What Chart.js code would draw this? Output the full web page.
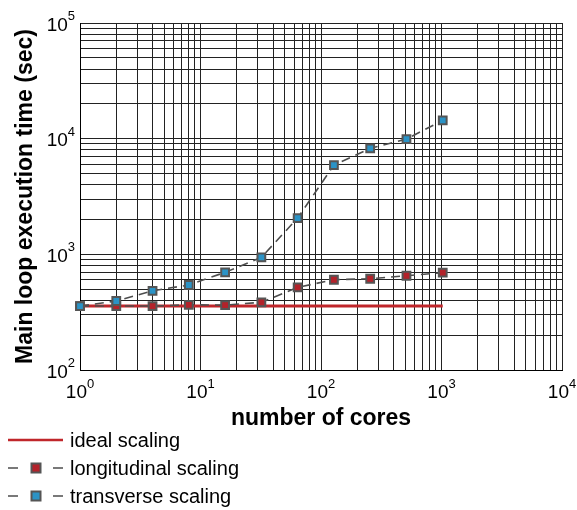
<!DOCTYPE html>
<html>
<head>
<meta charset="utf-8">
<script src="https://cdn.jsdelivr.net/npm/chart.js@4/dist/chart.umd.min.js"></script>
<style>
  html, body { margin: 0; padding: 0; background: #fff; }
  #wrap { width: 577px; height: 510px; }
</style>
</head>
<body>
<div id="wrap"><canvas id="c1"></canvas></div>
<script>
// scaling runs, execution time in seconds
var cores = [1, 2, 4, 8, 16, 32, 64, 128, 256, 512, 1024];
var longitudinal = [357, 357, 357, 366, 364, 385, 518, 603, 615, 653, 694];
var transverse = [357, 395, 484, 543, 699, 942, 2060, 5910, 8250, 9930, 14400];
var idealCores = [1, 1024];
var idealTime = [357, 357];

var FONT = "'Liberation Sans', Arial, Helvetica, sans-serif";

function pairs(xs, ys) {
  return xs.map(function (x, i) { return { x: x, y: ys[i] }; });
}

// 1,2,...,9 per decade so every decade gets its minor grid
function decadeTicks(min, max) {
  var out = [];
  for (var e = Math.log10(min); e < Math.log10(max); e++) {
    for (var m = 1; m < 10; m++) out.push({ value: m * Math.pow(10, e) });
  }
  out.push({ value: max });
  return out;
}

function isPow10(v) {
  var l = Math.log10(v);
  return Math.abs(l - Math.round(l)) < 1e-9;
}

// "10" with a raised exponent on both axes
var powerLabels = {
  id: 'powerLabels',
  afterDraw: function (chart) {
    var ctx = chart.ctx;
    ctx.save();
    ctx.fillStyle = '#000';
    ctx.textBaseline = 'alphabetic';
    var big = '19px ' + FONT, small = '13px ' + FONT;

    var xs = chart.scales.x;
    xs.ticks.forEach(function (t) {
      if (!isPow10(t.value)) return;
      var e = String(Math.round(Math.log10(t.value)));
      var px = xs.getPixelForValue(t.value);
      ctx.font = big; var w1 = ctx.measureText('10').width;
      ctx.font = small; var w2 = ctx.measureText(e).width;
      var left = px - (w1 + w2) / 2;
      ctx.font = big; ctx.textAlign = 'left';
      ctx.fillText('10', left, xs.top + 28);
      ctx.font = small;
      ctx.fillText(e, left + w1, xs.top + 18);
    });

    var ys = chart.scales.y;
    ys.ticks.forEach(function (t) {
      if (!isPow10(t.value)) return;
      var e = String(Math.round(Math.log10(t.value)));
      var py = ys.getPixelForValue(t.value);
      var right = ys.right - 5;
      ctx.font = small; ctx.textAlign = 'right';
      var w2 = ctx.measureText(e).width;
      ctx.fillText(e, right, py - 3);
      ctx.font = big;
      ctx.fillText('10', right - w2, py + 7.5);
    });
    ctx.restore();
  }
};

// legend under the axis title, one row per dataset
var bottomLegend = {
  id: 'bottomLegend',
  afterDraw: function (chart) {
    var ctx = chart.ctx;
    var rows = [440, 468, 496];
    ctx.save();
    chart.data.datasets.forEach(function (ds, i) {
      var y = rows[i];
      if (ds.pointRadius === 0) {
        ctx.strokeStyle = ds.borderColor;
        ctx.lineWidth = 2.5;
        ctx.beginPath(); ctx.moveTo(8, y); ctx.lineTo(63, y); ctx.stroke();
      } else {
        ctx.strokeStyle = ds.borderColor;
        ctx.lineWidth = 1.5;
        ctx.beginPath();
        ctx.moveTo(8, y); ctx.lineTo(18, y);
        ctx.moveTo(53, y); ctx.lineTo(63, y);
        ctx.stroke();
        ctx.fillStyle = ds.pointBackgroundColor;
        ctx.strokeStyle = ds.pointBorderColor;
        ctx.lineWidth = 2;
        ctx.fillRect(31.5, y - 4.5, 9, 9);
        ctx.strokeRect(31.5, y - 4.5, 9, 9);
      }
      ctx.fillStyle = '#000';
      ctx.font = '20px ' + FONT;
      ctx.textAlign = 'left';
      ctx.textBaseline = 'middle';
      ctx.fillText(ds.label, 70, y + 1);
    });
    ctx.restore();
  }
};

var ctx = document.getElementById('c1');
var chart = new Chart(ctx, {
  type: 'line',
  data: {
    datasets: [
      {
        label: 'ideal scaling',
        data: pairs(idealCores, idealTime),
        borderColor: '#c0262b',
        borderWidth: 3,
        pointRadius: 0,
        order: 3
      },
      {
        label: 'longitudinal scaling',
        data: pairs(cores, longitudinal),
        borderColor: '#4d4d4d',
        borderWidth: 1.6,
        borderDash: [9, 6],
        pointStyle: 'rect',
        pointRadius: 5.5,
        pointBorderWidth: 2,
        pointBorderColor: '#555555',
        pointBackgroundColor: '#b3222a',
        order: 2
      },
      {
        label: 'transverse scaling',
        data: pairs(cores, transverse),
        borderColor: '#4d4d4d',
        borderWidth: 1.6,
        borderDash: [9, 6],
        pointStyle: 'rect',
        pointRadius: 5.5,
        pointBorderWidth: 2,
        pointBorderColor: '#555555',
        pointBackgroundColor: '#2b93c6',
        order: 1
      }
    ]
  },
  options: {
    responsive: true,
    maintainAspectRatio: false,
    animation: false,
    devicePixelRatio: 1,
    layout: { padding: { top: 23, right: 15, left: 0, bottom: 0 } },
    elements: { line: { tension: 0, fill: false } },
    datasets: { line: { clip: false } },
    plugins: {
      legend: { display: false },
      tooltip: { enabled: false }
    },
    scales: {
      x: {
        type: 'logarithmic',
        min: 1,
        max: 10000,
        afterBuildTicks: function (s) { s.ticks = decadeTicks(1, 10000); },
        afterFit: function (s) { s.height = 140; },
        ticks: { display: false },
        grid: { color: '#222', lineWidth: 1, drawTicks: false },
        border: { color: '#000', width: 1 },
        title: {
          display: true,
          text: 'number of cores',
          color: '#000',
          font: { family: FONT, size: 23, weight: 'bold' },
          padding: { top: 0, bottom: 78 }
        }
      },
      y: {
        type: 'logarithmic',
        min: 100,
        max: 100000,
        afterBuildTicks: function (s) { s.ticks = decadeTicks(100, 100000); },
        afterFit: function (s) { s.width = 80; },
        ticks: { display: false },
        grid: { color: '#222', lineWidth: 1, drawTicks: false },
        border: { color: '#000', width: 1 },
        title: {
          display: true,
          text: 'Main loop execution time (sec)',
          color: '#000',
          font: { family: FONT, size: 23, weight: 'bold' },
          padding: { top: 12, bottom: 0 }
        }
      }
    }
  },
  plugins: [powerLabels, bottomLegend]
});
</script>
</body>
</html>
